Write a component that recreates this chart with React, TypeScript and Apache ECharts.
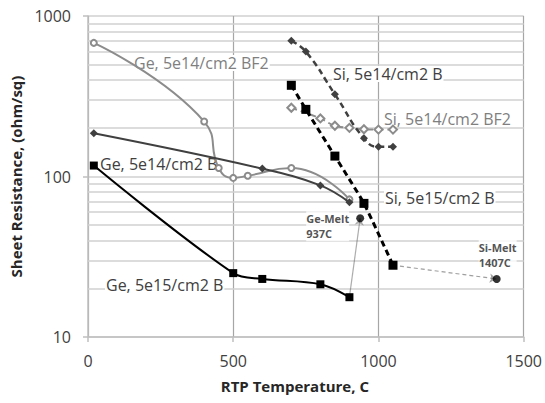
import React, { useEffect, useRef } from "react";
import * as echarts from "echarts";

// Sheet resistance (ohm/sq) vs. RTP anneal temperature (C)
const geBf2Dose5e14: [number, number][] = [
  [20, 680], [400, 220], [450, 113], [500, 98], [550, 101], [700, 113], [900, 72],
];
const geBDose5e14: [number, number][] = [
  [20, 186], [600, 112], [800, 88], [900, 69],
];
const geBDose5e15: [number, number][] = [
  [20, 117], [500, 25], [600, 23], [800, 21.3], [900, 17.7],
];
const siBDose5e14: [number, number][] = [
  [700, 700], [750, 600], [850, 325], [950, 173], [1000, 153], [1050, 153],
];
const siBf2Dose5e14: [number, number][] = [
  [700, 268], [800, 230], [850, 207], [900, 201], [950, 197], [1000, 196], [1050, 196],
];
const siBDose5e15: [number, number][] = [
  [700, 370], [750, 262], [850, 134], [950, 68], [1050, 28],
];

// Melting points: name, temperature (C), resistance marker level
const meltNames = ["Ge-Melt", "Si-Melt"];
const meltTemps = [937, 1407];
const meltLevels = [55, 23];

// Axis range and minor log grid lines between decades
const xRange = [0, 1500];
const minorGridValues = [20, 30, 40, 50, 60, 70, 80, 90, 200, 300, 400, 500, 600, 700, 800, 900];

const seriesLabels = [
  { text: "Ge, 5e14/cm2 BF2", x: 133, y: 63, color: "#7f7f7f" },
  { text: "Ge, 5e14/cm2 B", x: 99, y: 164, color: "#404040" },
  { text: "Ge, 5e15/cm2 B", x: 105, y: 285, color: "#404040" },
  { text: "Si, 5e14/cm2 B", x: 332, y: 74, color: "#404040" },
  { text: "Si, 5e14/cm2 BF2", x: 383, y: 119, color: "#7f7f7f" },
  { text: "Si, 5e15/cm2 B", x: 384, y: 198, color: "#404040" },
];

const FONT = "'Open Sans', 'Noto Sans', sans-serif";
const GRID_COLOR = "#d0d0d0";

export default function App() {
  const ref = useRef<HTMLDivElement>(null);

  useEffect(() => {
    if (!ref.current) return;
    const chart = echarts.init(ref.current, undefined, { renderer: "svg" });

    const meltPoint = (i: number) => [meltTemps[i], meltLevels[i]];
    const lastOf = (a: [number, number][]) => a[a.length - 1];
    const plainNumber = (v: number) => String(v);

    chart.setOption({
      animation: false,
      backgroundColor: "#ffffff",
      textStyle: { fontFamily: FONT },
      grid: { left: 88, right: 20, top: 16, bottom: 66 },
      xAxis: {
        type: "value",
        min: xRange[0],
        max: xRange[1],
        interval: 500,
        name: "RTP Temperature, C",
        nameLocation: "middle",
        nameGap: 41,
        nameTextStyle: {
          fontFamily: FONT, fontSize: 15, fontWeight: "bold", color: "#262626",
          padding: [0, 22, 0, 0],
        },
        axisLine: { show: true, lineStyle: { color: "#bfbfbf", width: 1.5 } },
        axisTick: { show: true, length: 5, lineStyle: { color: "#bfbfbf", width: 1.5 } },
        axisLabel: { fontFamily: FONT, fontSize: 16, color: "#404040", margin: 16, formatter: plainNumber },
        splitLine: { show: true, lineStyle: { color: "#a6a6a6", width: 1.2 } },
      },
      yAxis: {
        type: "log",
        logBase: 10,
        min: 10,
        max: 1000,
        name: "Sheet Resistance, (ohm/sq)",
        nameLocation: "middle",
        nameGap: 62,
        nameTextStyle: { fontFamily: FONT, fontSize: 15, fontWeight: "bold", color: "#262626" },
        axisLine: { show: true, lineStyle: { color: "#bfbfbf", width: 1.5 } },
        axisTick: { show: true, length: 5, lineStyle: { color: "#bfbfbf", width: 1.5 } },
        axisLabel: { fontFamily: FONT, fontSize: 16, color: "#404040", margin: 17, formatter: plainNumber },
        splitLine: { show: true, lineStyle: { color: GRID_COLOR, width: 1.5 } },
      },
      graphic: seriesLabels.map((l) => ({
        type: "text",
        x: l.x,
        y: l.y,
        z: 2,
        silent: true,
        style: {
          text: l.text,
          fill: l.color,
          font: `16px ${FONT}`,
          verticalAlign: "middle",
          align: "left",
          backgroundColor: "#ffffff",
          padding: [0, 1],
        },
      })),
      series: [
        {
          type: "line",
          name: "Ge 5e14 BF2",
          data: geBf2Dose5e14,
          z: 3,
          smooth: 0.5,
          symbol: "emptyCircle",
          symbolSize: 6,
          lineStyle: { color: "#8c8c8c", width: 2 },
          itemStyle: { color: "#8c8c8c", borderColor: "#8c8c8c", borderWidth: 1 },
          // minor horizontal grid lines at 2..9 x each decade, kept beneath every series
          markLine: {
            z: 1,
            silent: true,
            animation: false,
            symbol: ["none", "none"],
            label: { show: false },
            emphasis: { disabled: true },
            lineStyle: { color: GRID_COLOR, width: 1.5, type: "solid", opacity: 1 },
            data: minorGridValues.map((v) => ({ yAxis: v })),
          },
        },
        {
          type: "line",
          name: "Ge 5e14 B",
          data: geBDose5e14,
          z: 4,
          smooth: 0.4,
          symbol: "diamond",
          symbolSize: 8,
          lineStyle: { color: "#404040", width: 2 },
          itemStyle: { color: "#404040" },
        },
        {
          type: "line",
          name: "Ge 5e15 B",
          data: geBDose5e15,
          z: 4,
          smooth: 0.35,
          symbol: "rect",
          symbolSize: 8,
          lineStyle: { color: "#000000", width: 2 },
          itemStyle: { color: "#000000" },
        },
        {
          type: "line",
          name: "Si 5e14 B",
          data: siBDose5e14,
          z: 4,
          smooth: 0.5,
          symbol: "diamond",
          symbolSize: 8,
          lineStyle: { color: "#404040", width: 2.5, type: [6, 4] },
          itemStyle: { color: "#404040" },
        },
        {
          type: "line",
          name: "Si 5e14 BF2",
          data: siBf2Dose5e14,
          z: 3,
          smooth: 0.4,
          symbol: "emptyDiamond",
          symbolSize: 8,
          lineStyle: { color: "#8c8c8c", width: 2, type: [6, 4] },
          itemStyle: { color: "#8c8c8c", borderColor: "#8c8c8c", borderWidth: 1 },
        },
        {
          type: "line",
          name: "Si 5e15 B",
          data: siBDose5e15,
          z: 5,
          smooth: 0.15,
          symbol: "rect",
          symbolSize: 9,
          lineStyle: { color: "#000000", width: 3, type: [6, 4] },
          itemStyle: { color: "#000000" },
        },
        {
          type: "lines",
          coordinateSystem: "cartesian2d",
          z: 4,
          silent: true,
          symbol: ["none", "arrow"],
          symbolSize: 7,
          data: [
            {
              coords: [lastOf(geBDose5e15), meltPoint(0)],
              lineStyle: { color: "#595959", width: 1.2, type: "solid" },
            },
            {
              coords: [lastOf(siBDose5e15), meltPoint(1)],
              lineStyle: { color: "#404040", width: 1.2, type: [4, 3] },
            },
          ],
        },
        {
          type: "scatter",
          z: 6,
          symbol: "circle",
          symbolSize: 8,
          itemStyle: { color: "#000000" },
          data: meltNames.map((n, i) => ({
            name: n,
            value: meltPoint(i),
            label: {
              show: true,
              position: i === 0 ? [-50, -3] : [-14, -35],
              align: "left",
              verticalAlign: "top",
              formatter: `${n}\n${meltTemps[i]}C`,
              fontFamily: FONT,
              fontSize: 11,
              fontWeight: "bold",
              lineHeight: 15,
              color: "#262626",
              backgroundColor: "#ffffff",
            },
          })),
        },
      ],
    });

    return () => chart.dispose();
  }, []);

  return <div ref={ref} style={{ width: 545, height: 403, position: "absolute", left: 0, top: 0 }} />;
}
